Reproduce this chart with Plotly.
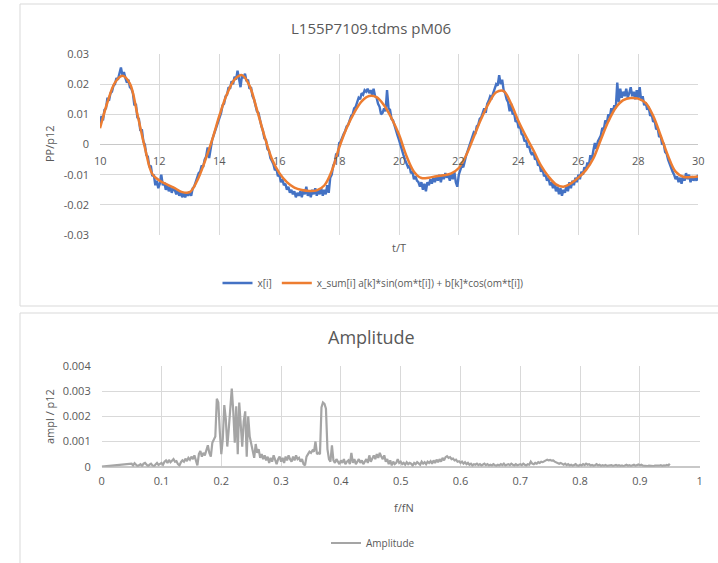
import numpy as np
import plotly.graph_objects as go

# ---------------- data ----------------
t_start, t_end = 10.0, 30.0
x_meas_milli = [
    6.5, 9.5, 8.0, 11.5, 12.0, 15.5, 14.5, 17.0, 17.5, 19.5, 20.0, 22.0, 21.5, 24.0, 25.5, 23.0, 24.0, 22.0, 20.5, 21.5,
    19.0, 18.5, 17.0, 13.0, 13.5, 9.0, 8.5, 4.5, 5.0, 1.0, 0.0, -3.5, -4.0, -7.5, -7.0, -10.5, -10.0, -13.5, -12.0, -14.5,
    -13.0, -10.0, -13.5, -12.5, -15.0, -13.5, -15.5, -14.0, -16.0, -14.5, -15.0, -16.5, -15.0, -17.0, -15.5, -17.5, -16.0, -17.5, -16.0, -17.0,
    -15.5, -17.0, -14.5, -14.0, -12.5, -11.5, -9.5, -9.0, -7.0, -7.5, -5.0, -4.0, -1.0, -4.5, -0.5, 1.5, 3.0, 4.5, 6.5, 8.0,
    9.5, 10.5, 13.0, 13.5, 16.0, 16.5, 19.0, 18.5, 21.0, 20.0, 22.5, 21.5, 24.5, 22.0, 19.0, 23.0, 22.0, 23.5, 21.0, 21.5,
    18.5, 19.0, 16.0, 15.0, 13.0, 11.0, 10.5, 7.5, 6.0, 4.5, 2.0, 1.5, -1.5, -2.0, -4.5, -5.5, -6.5, -8.5, -8.0, -10.5,
    -10.0, -12.5, -11.5, -13.5, -13.0, -15.0, -14.0, -16.0, -15.0, -16.5, -15.5, -17.5, -16.0, -17.0, -15.5, -17.5, -15.0, -16.5, -14.0, -17.0,
    -15.5, -17.5, -15.0, -16.5, -14.5, -17.0, -15.0, -16.5, -14.5, -17.0, -15.0, -16.5, -13.5, -16.0, -11.0, -10.0, -7.0, -6.0, -3.0, -4.0,
    0.5, 1.0, 2.5, 3.5, 4.5, 6.0, 6.5, 8.5, 9.5, 10.0, 12.0, 12.5, 14.0, 15.5, 15.0, 17.0, 16.5, 18.0, 17.5, 18.5,
    17.0, 18.0, 16.5, 18.5, 16.0, 15.5, 13.5, 12.5, 10.0, 10.5, 12.0, 11.0, 18.0, 12.0, 11.5, 8.5, 8.0, 6.0, 5.0, 3.0,
    1.5, -0.5, -1.5, -3.5, -5.0, -6.5, -7.5, -7.0, -9.5, -9.0, -11.5, -10.5, -12.0, -12.5, -14.0, -12.5, -15.0, -13.0, -15.5, -12.5,
    -13.5, -11.5, -13.0, -11.0, -12.5, -10.5, -12.0, -10.0, -12.5, -10.0, -11.5, -9.5, -11.0, -10.0, -12.0, -9.5, -11.5, -9.0, -12.5, -14.0,
    -10.0, -8.5, -7.0, -7.5, -5.0, -3.5, -2.0, -0.5, 1.0, 2.0, 4.0, 3.5, 6.0, 6.5, 8.5, 9.0, 11.0, 12.0, 10.5, 13.5,
    14.5, 16.0, 15.5, 17.0, 18.0, 20.0, 19.5, 23.0, 20.0, 21.5, 18.0, 17.0, 15.0, 14.0, 11.0, 13.5, 10.0, 10.5, 7.5, 8.0,
    5.5, 6.0, 3.5, 3.0, 1.0, 1.5, -1.0, -0.5, -2.5, -3.5, -2.5, -5.0, -4.5, -7.0, -6.5, -9.0, -8.0, -10.5, -10.0, -12.0,
    -11.0, -13.5, -12.5, -14.5, -13.0, -15.5, -14.0, -16.5, -14.5, -17.0, -15.0, -16.0, -13.5, -15.5, -12.5, -14.5, -12.0, -13.5, -11.0, -12.5,
    -10.0, -11.5, -9.0, -10.0, -7.5, -8.5, -6.0, -7.0, -3.5, -5.0, -2.0, 0.5, -1.5, 1.0, 2.0, 3.0, 5.5, 5.0, 8.0, 7.0,
    10.0, 9.0, 12.0, 10.5, 13.0, 12.0, 20.5, 14.0, 18.5, 15.5, 17.5, 16.0, 18.5, 15.5, 17.0, 19.0, 16.0, 17.5, 15.0, 18.0,
    15.5, 19.0, 14.5, 16.0, 13.0, 14.0, 11.5, 12.5, 9.5, 10.0, 7.5, 8.0, 5.0, 5.5, 2.5, 3.0, 0.0, 0.5, -2.5, -3.0,
    -5.0, -6.5, -7.5, -9.0, -10.0, -11.5, -10.5, -12.5, -11.0, -13.0, -10.5, -12.0, -9.5, -11.5, -10.0, -12.5, -10.5, -12.0, -11.0, -12.0,
    -10.0,
]
x_fit_milli = [
    5.4, 14.0, 20.5, 22.8, 20.2, 10.0, -1.0, -9.8,
    -12.0, -13.3, -14.5, -15.8, -15.8, -12.0, -5.8, 1.5,
    9.8, 16.8, 21.5, 23.0, 19.5, 11.5, 2.8, -4.8,
    -9.5, -12.5, -14.3, -15.1, -15.4, -15.2, -13.6, -8.8,
    -1.0, 5.5, 10.5, 14.3, 16.1, 15.7, 13.0, 8.7,
    3.3, -3.8, -9.0, -11.1, -11.0, -10.5, -10.2, -9.6,
    -7.8, -3.5, 2.5, 8.5, 13.6, 17.3, 17.7, 13.5,
    7.6, 2.6, -2.0, -7.0, -10.6, -13.2, -14.0, -12.9,
    -11.0, -8.5, -4.6, 1.6, 7.6, 12.2, 14.7, 15.4,
    15.2, 13.8, 9.5, 3.0, -3.8, -9.0, -10.7, -10.8,
    -10.6,
]
t_ticks = [10, 12, 14, 16, 18, 20, 22, 24, 26, 28, 30]
t_tick_text = ["10", "12", "14", "16", "18", "20", "22", "24", "26", "28", "30"]
y_ticks = [0.03, 0.02, 0.01, 0, -0.01, -0.02, -0.03]
y_tick_text = ["0.03", "0.02", "0.01", "0", "-0.01", "-0.02", "-0.03"]

f_first = 0.0
f_start, f_end = 0.05, 0.95
amp_first_milli = 0.0
amp_milli = [
    0.12, 0.05, 0.14, 0.08, 0.02, 0.06, 0.10, 0.03, 0.12, 0.15, 0.06, 0.02, 0.08, 0.12, 0.05, 0.01, 0.09, 0.15, 0.07, 0.11,
    0.15, 0.08, 0.20, 0.25, 0.15, 0.27, 0.18, 0.24, 0.30, 0.20, 0.22, 0.10, 0.05, 0.18, 0.25, 0.20, 0.32, 0.22, 0.35, 0.28,
    0.40, 0.30, 0.45, 0.25, 0.05, 0.50, 0.62, 0.40, 0.55, 0.45, 0.70, 0.85, 0.55, 0.40, 0.95, 1.05, 1.20, 2.70, 2.55, 1.40,
    0.50, 1.10, 2.45, 1.90, 0.80, 1.50, 2.20, 3.10, 2.20, 0.95, 2.40, 0.50, 2.55, 1.60, 0.80, 1.80, 2.20, 0.40, 2.00, 1.20,
    0.90, 0.60, 0.35, 0.90, 0.55, 0.70, 0.35, 0.50, 0.30, 0.45, 0.25, 0.40, 0.15, 0.35, 0.20, 0.45, 0.25, 0.10, 0.30, 0.40,
    0.20, 0.35, 0.15, 0.40, 0.25, 0.45, 0.30, 0.20, 0.40, 0.25, 0.45, 0.30, 0.35, 0.20, 0.30, 0.10, 0.05, 0.40, 0.50, 0.60,
    0.55, 0.65, 0.60, 1.00, 0.50, 0.55, 0.50, 2.35, 2.55, 2.50, 2.30, 0.70, 0.30, 0.20, 0.85, 0.25, 0.15, 0.30, 0.20, 0.10,
    0.25, 0.15, 0.30, 0.10, 0.20, 0.25, 0.10, 0.55, 0.15, 0.30, 0.10, 0.20, 0.30, 0.15, 0.25, 0.10, 0.20, 0.30, 0.15, 0.45,
    0.20, 0.35, 0.45, 0.30, 0.50, 0.35, 0.55, 0.40, 0.30, 0.45, 0.20, 0.30, 0.10, 0.25, 0.05, 0.20, 0.10, 0.15, 0.30, 0.15,
    0.20, 0.10, 0.15, 0.08, 0.18, 0.10, 0.15, 0.12, 0.05, 0.15, 0.10, 0.18, 0.12, 0.08, 0.20, 0.12, 0.18, 0.10, 0.20, 0.15,
    0.22, 0.12, 0.25, 0.15, 0.28, 0.18, 0.30, 0.20, 0.35, 0.25, 0.38, 0.42, 0.35, 0.38, 0.30, 0.32, 0.25, 0.28, 0.20, 0.22,
    0.15, 0.20, 0.12, 0.18, 0.10, 0.15, 0.08, 0.12, 0.05, 0.10, 0.08, 0.12, 0.06, 0.10, 0.05, 0.08, 0.12, 0.06, 0.10, 0.05,
    0.08, 0.05, 0.10, 0.06, 0.04, 0.08, 0.05, 0.10, 0.06, 0.12, 0.05, 0.08, 0.10, 0.06, 0.12, 0.08, 0.05, 0.10, 0.06, 0.08,
    0.10, 0.06, 0.12, 0.08, 0.05, 0.10, 0.08, 0.20, 0.12, 0.10, 0.15, 0.12, 0.18, 0.15, 0.20, 0.18, 0.22, 0.25, 0.28, 0.25,
    0.27, 0.24, 0.25, 0.20, 0.18, 0.15, 0.12, 0.15, 0.10, 0.08, 0.12, 0.06, 0.10, 0.05, 0.08, 0.04, 0.07, 0.10, 0.05, 0.03,
    0.08, 0.05, 0.10, 0.06, 0.12, 0.08, 0.10, 0.05, 0.07, 0.04, 0.06, 0.10, 0.05, 0.08, 0.03, 0.06, 0.04, 0.07, 0.03, 0.05,
    0.04, 0.06, 0.03, 0.05, 0.07, 0.04, 0.06, 0.03, 0.05, 0.02, 0.05, 0.08, 0.04, 0.06, 0.03, 0.05, 0.08, 0.04, 0.07, 0.09,
    0.06, 0.08, 0.04, 0.03, 0.05, 0.02, 0.04, 0.03, 0.05, 0.02, 0.04, 0.03, 0.05, 0.04, 0.06, 0.03, 0.05, 0.04, 0.07, 0.05,
    0.12,
]
amp_ticks = [0, 0.001, 0.002, 0.003, 0.004]
amp_tick_text = ["0", "0.001", "0.002", "0.003", "0.004"]
f_ticks = [0, 0.1, 0.2, 0.3, 0.4, 0.5, 0.6, 0.7, 0.8, 0.9, 1]
f_tick_text = ["0", "0.1", "0.2", "0.3", "0.4", "0.5", "0.6", "0.7", "0.8", "0.9", "1"]

# ---------------- figure ----------------
W, H = 718, 563
def px(x):
    return x / W
def py(y):
    return 1 - y / H

t_meas = np.linspace(t_start, t_end, len(x_meas_milli))
t_fit = np.linspace(t_start, t_end, len(x_fit_milli))
freq = np.concatenate([[f_first], np.linspace(f_start, f_end, len(amp_milli))])
amp = np.concatenate([[amp_first_milli], np.array(amp_milli)]) * 1e-3

TXT = "#595959"
GRID = "#d9d9d9"
FONT = "Open Sans"

fig = go.Figure()
fig.add_trace(go.Scatter(x=t_meas, y=np.array(x_meas_milli) * 1e-3, mode="lines",
                         name="x[i]", line=dict(color="#4472C4", width=2.4),
                         xaxis="x", yaxis="y", legend="legend"))
fig.add_trace(go.Scatter(x=t_fit, y=np.array(x_fit_milli) * 1e-3, mode="lines",
                         name="x_sum[i] a[k]*sin(om*t[i]) + b[k]*cos(om*t[i])",
                         line=dict(color="#ED7D31", width=2.5, shape="spline", smoothing=1.0),
                         xaxis="x", yaxis="y", legend="legend"))
fig.add_trace(go.Scatter(x=freq, y=amp, mode="lines", name="Amplitude",
                         line=dict(color="#A5A5A5", width=2.2),
                         xaxis="x2", yaxis="y2", legend="legend2"))

for (x0, y0, x1, y1) in [(20, 4, 722, 306), (20, 313, 722, 570)]:
    fig.add_shape(type="rect", xref="paper", yref="paper",
                  x0=px(x0), x1=px(x1), y0=py(y1), y1=py(y0),
                  line=dict(color="#d9d9d9", width=1), fillcolor="rgba(0,0,0,0)", layer="below")

tickfont = dict(family=FONT, size=11, color=TXT)
fig.update_layout(
    width=W, height=H,
    margin=dict(l=0, r=0, t=0, b=0, pad=0, autoexpand=False),
    paper_bgcolor="white", plot_bgcolor="white",
    xaxis=dict(domain=[px(100), px(698)], range=[10, 30], tickvals=t_ticks,
               anchor="y", showgrid=True, gridcolor=GRID, showticklabels=False,
               showline=False, zeroline=False, ticks="", automargin=False),
    yaxis=dict(domain=[py(235), py(54)], range=[-0.03, 0.03], tickvals=y_ticks, ticktext=y_tick_text,
               showgrid=True, gridcolor=GRID, zeroline=True, zerolinecolor="#c8c8c8", zerolinewidth=1,
               showline=False, ticks="", tickfont=tickfont, ticklabelstandoff=10, anchor="x", automargin=False),
    xaxis2=dict(domain=[px(101.7), px(699.7)], range=[0, 1], tickvals=f_ticks, ticktext=f_tick_text,
                showgrid=True, gridcolor=GRID, showline=False, zeroline=False, ticks="",
                tickfont=tickfont, ticklabelstandoff=6, anchor="y2", automargin=False),
    yaxis2=dict(domain=[py(466.7), py(366)], range=[0, 0.004], tickvals=amp_ticks, ticktext=amp_tick_text,
                showgrid=True, gridcolor=GRID, zeroline=True, zerolinecolor="#c8c8c8", showline=False,
                ticks="", tickfont=tickfont, ticklabelstandoff=10, anchor="x2", automargin=False),
    legend=dict(orientation="h", x=px(373), xanchor="center", y=py(283), yanchor="middle",
                font=dict(family=FONT, size=10, color=TXT), bgcolor="rgba(0,0,0,0)"),
    legend2=dict(orientation="h", x=px(373), xanchor="center", y=py(543), yanchor="middle",
                 font=dict(family=FONT, size=10, color=TXT), bgcolor="rgba(0,0,0,0)"),
    showlegend=True,
)

for tv, tt in zip(t_ticks, t_tick_text):
    fig.add_annotation(text=tt, x=tv, y=0, xref="x", yref="y", showarrow=False,
                       xanchor="center", yanchor="middle", yshift=-16, font=tickfont)

annos = [
    dict(text="L155P7109.tdms pM06", x=px(371), y=py(28), size=15),
    dict(text="Amplitude", x=px(371), y=py(337), size=18),
    dict(text="t/T", x=px(399), y=py(247), size=11),
    dict(text="f/fN", x=px(404), y=py(507), size=11),
]
for a in annos:
    fig.add_annotation(text=a["text"], x=a["x"], y=a["y"], xref="paper", yref="paper",
                       showarrow=False, xanchor="center", yanchor="middle",
                       font=dict(family=FONT, size=a["size"], color=TXT))
for text, yc in [("PP/p12", 144), ("ampl / p12", 417)]:
    fig.add_annotation(text=text, x=px(49), y=py(yc), xref="paper", yref="paper",
                       showarrow=False, textangle=-90, xanchor="center", yanchor="middle",
                       font=dict(family=FONT, size=11, color=TXT))

fig.write_html("out.html")
